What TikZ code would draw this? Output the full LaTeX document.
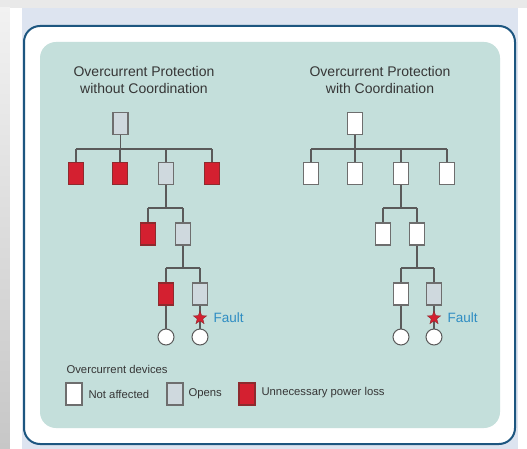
\documentclass[tikz,border=0pt]{standalone}
\usepackage{fontspec}
\setmainfont{Liberation Sans}
\usetikzlibrary{shapes.geometric}
\definecolor{bggray}{HTML}{E9E9E9}
\definecolor{pageblue}{HTML}{DDE4F0}
\definecolor{framecol}{HTML}{1D5680}
\definecolor{panel}{HTML}{C4DFDB}
\definecolor{wire}{HTML}{5A5A5A}
\definecolor{devgrayfill}{HTML}{CFD9DE}
\definecolor{devborder}{HTML}{6E6E6E}
\definecolor{devred}{HTML}{D42030}
\definecolor{devredborder}{HTML}{8E2A2E}
\definecolor{faultblue}{HTML}{2E8DC3}
\definecolor{txt}{HTML}{363636}
\begin{document}
\begin{tikzpicture}[x=1pt,y=-1pt,
  dev/.style={rectangle, minimum width=15pt, minimum height=22pt, inner sep=0pt, line width=1.4pt},
  devw/.style={dev, draw=devborder, fill=white},
  devg/.style={dev, draw=devborder, fill=devgrayfill},
  devr/.style={dev, draw=devredborder, fill=devred},
  load/.style={circle, draw=wire, fill=white, line width=1pt, minimum size=16pt, inner sep=0pt},
  faultstar/.style={star, star points=5, star point ratio=2.4, fill=devred, draw=devredborder, line width=0.4pt, minimum size=14pt, inner sep=0pt},
  wirel/.style={draw=wire, line width=1.2pt},
  title/.style={font=\fontsize{14}{17}\selectfont, text=txt, align=center},
  faulttxt/.style={font=\fontsize{13.5}{16}\selectfont, text=faultblue, anchor=west},
  legtxt/.style={font=\fontsize{11.3}{13}\selectfont, text=txt, anchor=west},
  legbox/.style={minimum width=16pt, minimum height=22pt}
]
\useasboundingbox (0,0) rectangle (527,449);
% background
\fill[bggray] (0,0) rectangle (527,449);
\shade[top color=bggray!60!white, bottom color=black!22] (0,8) rectangle (10,449);
\fill[white] (10,8) rectangle (527,449);
\fill[pageblue] (22,8) rectangle (518,449);
% frame and panel
\draw[framecol, line width=2pt, fill=white, rounded corners=16pt] (24,26) rectangle (515,444);
\fill[panel, rounded corners=16pt] (40,42) rectangle (500,428);

% titles
\node[title] (tl) at (144,79.5) {Overcurrent Protection\\without Coordination};
\node[title] (tr) at (380,79.5) {Overcurrent Protection\\with Coordination};

% ---------- left tree ----------
\node[devg] (L0) at (120.5,123.5) {};
\node[devr] (L1a) at (76,173.5) {};
\node[devr] (L1b) at (120,173.5) {};
\node[devg] (L1c) at (166,173.5) {};
\node[devr] (L1d) at (212,173.5) {};
\node[devr] (L2a) at (148,234) {};
\node[devg] (L2b) at (183,234) {};
\node[devr] (L3a) at (166,294) {};
\node[devg] (L3b) at (200,294) {};
\node[load] (LCa) at (166,337) {};
\node[load] (LCb) at (200,337) {};
\coordinate (Lb1) at (120.5,149);
\coordinate (Lb2) at (166,208);
\coordinate (Lb3) at (183,268);

% ---------- right tree ----------
\node[devw] (R0) at (355,123.5) {};
\node[devw] (R1a) at (311,173.5) {};
\node[devw] (R1b) at (355,173.5) {};
\node[devw] (R1c) at (401,173.5) {};
\node[devw] (R1d) at (447,173.5) {};
\node[devw] (R2a) at (383,234) {};
\node[devw] (R2b) at (417,234) {};
\node[devw] (R3a) at (401,294) {};
\node[devg] (R3b) at (434,294) {};
\node[load] (RCa) at (401,337) {};
\node[load] (RCb) at (434,337) {};
\coordinate (Rb1) at (355,149);
\coordinate (Rb2) at (401,208);
\coordinate (Rb3) at (417,268);

% left wires
\draw[wirel] (L0.south) -- (Lb1);
\draw[wirel] (L1a.north |- Lb1) -- (L1d.north |- Lb1);
\foreach \n in {L1a,L1b,L1c,L1d} \draw[wirel] (\n.north) -- (\n.north |- Lb1);
\draw[wirel] (L1c.south) -- (Lb2);
\draw[wirel] (L2a.north |- Lb2) -- (L2b.north |- Lb2);
\foreach \n in {L2a,L2b} \draw[wirel] (\n.north) -- (\n.north |- Lb2);
\draw[wirel] (L2b.south) -- (Lb3);
\draw[wirel] (L3a.north |- Lb3) -- (L3b.north |- Lb3);
\foreach \n in {L3a,L3b} \draw[wirel] (\n.north) -- (\n.north |- Lb3);
\draw[wirel] (L3a.south) -- (LCa.north);
\draw[wirel] (L3b.south) -- (LCb.north);
% right wires
\draw[wirel] (R0.south) -- (Rb1);
\draw[wirel] (R1a.north |- Rb1) -- (R1d.north |- Rb1);
\foreach \n in {R1a,R1b,R1c,R1d} \draw[wirel] (\n.north) -- (\n.north |- Rb1);
\draw[wirel] (R1c.south) -- (Rb2);
\draw[wirel] (R2a.north |- Rb2) -- (R2b.north |- Rb2);
\foreach \n in {R2a,R2b} \draw[wirel] (\n.north) -- (\n.north |- Rb2);
\draw[wirel] (R2b.south) -- (Rb3);
\draw[wirel] (R3a.north |- Rb3) -- (R3b.north |- Rb3);
\foreach \n in {R3a,R3b} \draw[wirel] (\n.north) -- (\n.north |- Rb3);
\draw[wirel] (R3a.south) -- (RCa.north);
\draw[wirel] (R3b.south) -- (RCb.north);

% faults
\node[faultstar] (LF) at (200,318) {};
\node[faulttxt] (LFt) at (210,318) {Fault};
\node[faultstar] (RF) at (434,318) {};
\node[faulttxt] (RFt) at (444,318) {Fault};

% legend
\node[legtxt] (lh) at (63,369) {Overcurrent devices};
\node[devw, legbox] (lw) at (74,394) {};
\node[legtxt] (lwt) at (85,394) {Not affected};
\node[devg, legbox] (lg) at (175,394) {};
\node[legtxt] (lgt) at (185,394) {Opens};
\node[devr, legbox] (lr) at (247,394) {};
\node[legtxt] (lrt) at (258,393) {Unnecessary power loss};
\end{tikzpicture}
\end{document}
